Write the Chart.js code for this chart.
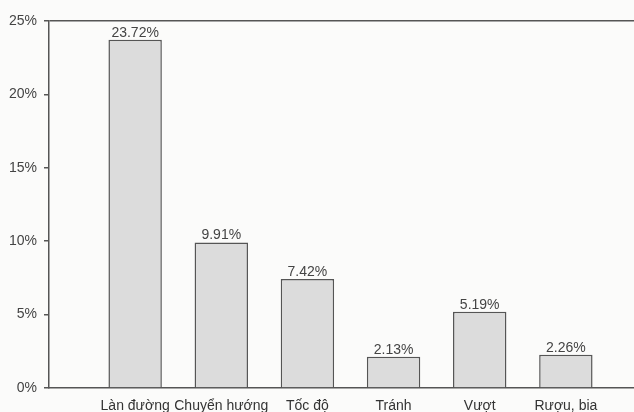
<!DOCTYPE html>
<html>
<head>
<meta charset="utf-8">
<script src="https://cdn.jsdelivr.net/npm/chart.js@4"></script>
<style>
    html, body { margin: 0; padding: 0; background: #fbfbfa; overflow: hidden; }
    #wrap { width: 634px; height: 412px; overflow: hidden; }
    #box { width: 662px; height: 412px; }
</style>
</head>
<body>
<div id="wrap"><div id="box"><canvas id="chart"></canvas></div></div>
<script>
// Categories (blank slots at both ends keep the spacing of the scan)
const categories = ['', 'Làn đường', 'Chuyển hướng', 'Tốc độ', 'Tránh', 'Vượt', 'Rượu, bia', ''];
const shares = [null, 23.72, 9.91, 7.42, 2.13, 5.19, 2.26, null];
const shareLabels = ['', '23.72%', '9.91%', '7.42%', '2.13%', '5.19%', '2.26%', ''];
const yTicks = [0, 5, 10, 15, 20, 25];

const font = "'Liberation Sans', Arial, sans-serif";
const ink = '#555';

// Draw the value labels just above each bar
const valueLabels = {
    id: 'valueLabels',
    afterDatasetsDraw(chart) {
        const ctx = chart.ctx;
        const meta = chart.getDatasetMeta(0);
        ctx.save();
        ctx.font = '14px ' + font;
        ctx.fillStyle = '#444';
        ctx.textAlign = 'center';
        ctx.textBaseline = 'bottom';
        meta.data.forEach((bar, i) => {
            if (shares[i] == null) return;
            ctx.fillText(shareLabels[i], bar.x, bar.y);
        });
        ctx.restore();
    }
};

new Chart(document.getElementById('chart'), {
    type: 'bar',
    data: {
        labels: categories,
        datasets: [{
            data: shares,
            backgroundColor: '#dcdcdc',
            borderColor: '#555',
            borderWidth: 1.5,
            barPercentage: 0.62,
            categoryPercentage: 1
        }]
    },
    options: {
        responsive: true,
        maintainAspectRatio: false,
        animation: false,
        layout: { padding: { top: 21, left: 0, right: 0, bottom: 0 } },
        plugins: {
            legend: { display: false },
            tooltip: { enabled: false }
        },
        scales: {
            x: {
                offset: false,
                grid: { display: false, drawTicks: false },
                border: { color: ink, width: 1.5 },
                ticks: {
                    color: '#333',
                    padding: 10,
                    maxRotation: 0,
                    autoSkip: false,
                    font: { family: font, size: 14 }
                },
                afterFit: (scale) => { scale.height = 24; }
            },
            y: {
                min: 0,
                max: 25,
                afterBuildTicks: (scale) => { scale.ticks = yTicks.map(v => ({ value: v })); },
                grid: {
                    color: (c) => c.tick && c.tick.value === 25 ? ink : 'rgba(0,0,0,0)',
                    lineWidth: 1.5,
                    tickColor: ink,
                    tickLength: 5
                },
                border: { color: ink, width: 1.5 },
                ticks: {
                    color: '#444',
                    padding: 7,
                    font: { family: font, size: 14 },
                    callback: (v) => v + '%'
                },
                afterFit: (scale) => { scale.width = 49; }
            }
        }
    },
    plugins: [valueLabels]
});
</script>
</body>
</html>
